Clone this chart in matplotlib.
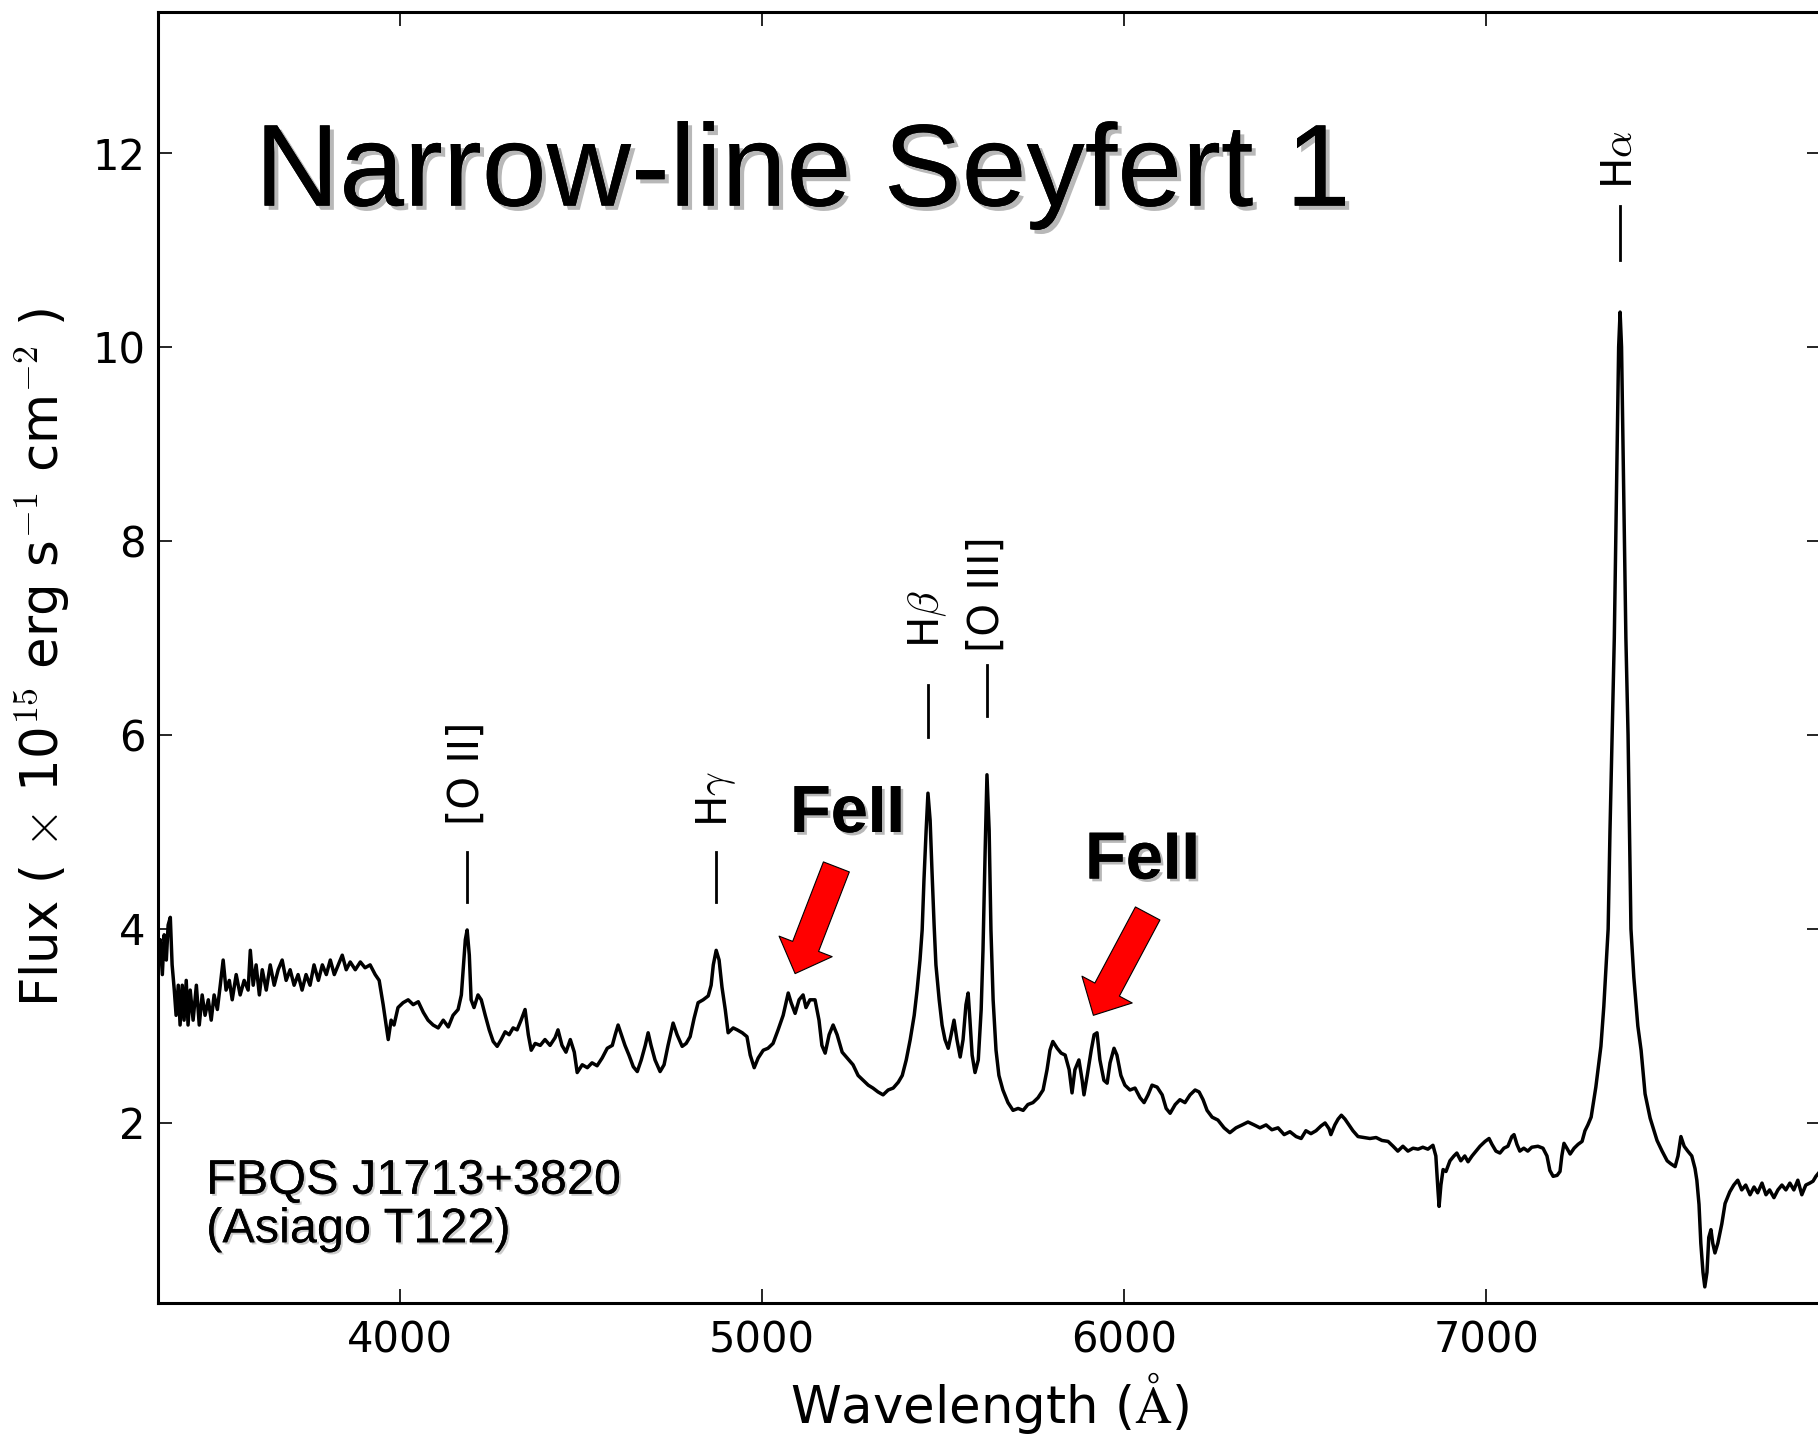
import matplotlib
matplotlib.use("Agg")
import matplotlib.pyplot as plt
import matplotlib.patheffects as pe
from matplotlib.patches import FancyArrowPatch, ArrowStyle

plt.rcParams["mathtext.fontset"] = "cm"

# Optical spectrum of FBQS J1713+3820, flux in 1e-15 erg s^-1 cm^-2
wavelength = [
    3332, 3337, 3343, 3348, 3354, 3359, 3365, 3370, 3376, 3381, 3387, 3392, 3398, 3403,
    3409, 3414, 3420, 3428, 3437, 3445, 3453, 3461, 3470, 3478, 3486, 3495, 3503, 3511,
    3519, 3528, 3536, 3547, 3558, 3569, 3580, 3586, 3594, 3602, 3611, 3619, 3630, 3641,
    3652, 3663, 3674, 3685, 3696, 3707, 3718, 3729, 3740, 3751, 3762, 3774, 3785, 3796,
    3807, 3818, 3829, 3840, 3851, 3862, 3876, 3890, 3903, 3917, 3931, 3942, 3953, 3961,
    3967, 3975, 3983, 3994, 4008, 4022, 4036, 4050, 4064, 4077, 4091, 4105, 4119, 4133,
    4146, 4160, 4169, 4174, 4180, 4185, 4191, 4196, 4204, 4215, 4224, 4235, 4246, 4257,
    4268, 4279, 4290, 4301, 4312, 4323, 4334, 4345, 4354, 4362, 4373, 4387, 4400, 4414,
    4428, 4436, 4447, 4458, 4470, 4481, 4489, 4503, 4517, 4530, 4544, 4558, 4572, 4586,
    4594, 4602, 4611, 4621, 4632, 4644, 4655, 4666, 4677, 4685, 4693, 4704, 4718, 4729,
    4740, 4754, 4765, 4779, 4790, 4801, 4812, 4823, 4837, 4851, 4859, 4865, 4873, 4881,
    4889, 4898, 4906, 4920, 4931, 4945, 4958, 4967, 4978, 4989, 5003, 5016, 5030, 5044,
    5058, 5072, 5080, 5091, 5102, 5113, 5121, 5132, 5146, 5157, 5165, 5174, 5185, 5196,
    5207, 5221, 5235, 5251, 5265, 5279, 5293, 5306, 5320, 5334, 5348, 5362, 5376, 5387,
    5398, 5409, 5420, 5428, 5436, 5442, 5447, 5453, 5458, 5464, 5469, 5475, 5480, 5489,
    5497, 5505, 5514, 5522, 5530, 5538, 5547, 5555, 5563, 5569, 5574, 5580, 5588, 5597,
    5605, 5610, 5616, 5621, 5627, 5632, 5638, 5646, 5654, 5665, 5679, 5693, 5707, 5721,
    5734, 5748, 5762, 5776, 5787, 5795, 5803, 5815, 5826, 5837, 5848, 5856, 5864, 5875,
    5884, 5889, 5898, 5909, 5917, 5925, 5933, 5944, 5953, 5961, 5972, 5980, 5991, 6002,
    6016, 6030, 6044, 6055, 6066, 6077, 6091, 6105, 6116, 6127, 6141, 6154, 6168, 6182,
    6196, 6207, 6218, 6229, 6243, 6259, 6276, 6292, 6309, 6326, 6342, 6359, 6375, 6392,
    6408, 6425, 6442, 6458, 6475, 6489, 6502, 6516, 6530, 6544, 6555, 6566, 6571, 6582,
    6591, 6600, 6610, 6621, 6632, 6646, 6663, 6679, 6696, 6712, 6729, 6743, 6756, 6770,
    6784, 6798, 6812, 6825, 6839, 6853, 6861, 6867, 6870, 6875, 6881, 6889, 6900, 6911,
    6919, 6930, 6941, 6950, 6961, 6972, 6983, 6997, 7008, 7016, 7027, 7038, 7049, 7060,
    7071, 7077, 7085, 7093, 7104, 7115, 7126, 7143, 7157, 7168, 7176, 7185, 7196, 7204,
    7209, 7215, 7223, 7232, 7243, 7254, 7265, 7273, 7281, 7290, 7303, 7317, 7325, 7331,
    7337, 7342, 7348, 7354, 7358, 7362, 7366, 7370, 7374, 7378, 7382, 7386, 7392, 7396,
    7400, 7408, 7419, 7428, 7439, 7453, 7472, 7486, 7500, 7510, 7522, 7530, 7538, 7547,
    7557, 7568, 7577, 7582, 7588, 7593, 7599, 7604, 7610, 7615, 7621, 7626, 7632, 7640,
    7651, 7660, 7673, 7684, 7695, 7706, 7717, 7729, 7740, 7750, 7762, 7773, 7783, 7795,
    7806, 7817, 7828, 7839, 7850, 7861, 7872, 7883, 7894, 7903, 7911, 7922,
]
flux = [
    3.68, 3.89, 3.53, 3.94, 3.68, 4.04, 4.12, 3.63, 3.37, 3.11, 3.42, 3.01, 3.42, 3.06,
    3.47, 3.01, 3.37, 3.06, 3.42, 3.01, 3.32, 3.11, 3.27, 3.06, 3.32, 3.17, 3.42, 3.68,
    3.37, 3.47, 3.27, 3.53, 3.32, 3.47, 3.37, 3.78, 3.42, 3.63, 3.32, 3.58, 3.37, 3.63,
    3.42, 3.58, 3.68, 3.47, 3.58, 3.42, 3.53, 3.37, 3.53, 3.42, 3.63, 3.47, 3.63, 3.53,
    3.68, 3.53, 3.63, 3.73, 3.58, 3.66, 3.58, 3.66, 3.60, 3.63, 3.53, 3.47, 3.22, 3.01,
    2.86, 3.06, 3.01, 3.19, 3.24, 3.27, 3.22, 3.25, 3.14, 3.06, 3.01, 2.98, 3.06, 2.99,
    3.11, 3.17, 3.32, 3.58, 3.89, 3.99, 3.73, 3.27, 3.19, 3.32, 3.27, 3.11, 2.96, 2.84,
    2.79, 2.86, 2.94, 2.91, 2.98, 2.96, 3.06, 3.17, 2.91, 2.75, 2.82, 2.80, 2.86, 2.80,
    2.88, 2.96, 2.80, 2.73, 2.86, 2.73, 2.52, 2.60, 2.57, 2.62, 2.59, 2.67, 2.77, 2.80,
    2.91, 3.01, 2.91, 2.80, 2.70, 2.58, 2.53, 2.65, 2.80, 2.93, 2.80, 2.65, 2.53, 2.60,
    2.80, 3.03, 2.91, 2.79, 2.82, 2.89, 3.08, 3.24, 3.27, 3.31, 3.42, 3.63, 3.78, 3.68,
    3.40, 3.17, 2.93, 2.98, 2.96, 2.93, 2.89, 2.70, 2.57, 2.67, 2.75, 2.77, 2.82, 2.96,
    3.11, 3.34, 3.24, 3.13, 3.27, 3.32, 3.19, 3.27, 3.27, 3.06, 2.80, 2.72, 2.91, 3.01,
    2.91, 2.73, 2.67, 2.60, 2.49, 2.44, 2.39, 2.36, 2.32, 2.29, 2.34, 2.36, 2.42, 2.49,
    2.65, 2.86, 3.11, 3.37, 3.68, 3.99, 4.51, 5.02, 5.40, 5.12, 4.61, 4.04, 3.63, 3.27,
    3.01, 2.86, 2.77, 2.91, 3.06, 2.86, 2.68, 2.86, 3.22, 3.34, 3.06, 2.70, 2.52, 2.65,
    3.17, 3.78, 4.81, 5.59, 5.02, 3.99, 3.27, 2.75, 2.49, 2.34, 2.21, 2.13, 2.15, 2.13,
    2.19, 2.21, 2.26, 2.34, 2.55, 2.75, 2.84, 2.77, 2.72, 2.70, 2.55, 2.31, 2.55, 2.65,
    2.44, 2.29, 2.49, 2.75, 2.91, 2.93, 2.65, 2.44, 2.41, 2.62, 2.77, 2.70, 2.49, 2.39,
    2.34, 2.36, 2.26, 2.21, 2.29, 2.39, 2.37, 2.29, 2.15, 2.10, 2.19, 2.24, 2.21, 2.29,
    2.34, 2.32, 2.24, 2.13, 2.06, 2.03, 1.95, 1.90, 1.95, 1.98, 2.01, 1.98, 1.95, 1.98,
    1.93, 1.95, 1.88, 1.91, 1.86, 1.84, 1.92, 1.89, 1.92, 1.97, 2.00, 1.94, 1.88, 1.98,
    2.04, 2.08, 2.04, 1.98, 1.92, 1.86, 1.85, 1.84, 1.85, 1.82, 1.81, 1.76, 1.71, 1.76,
    1.71, 1.74, 1.73, 1.75, 1.73, 1.77, 1.66, 1.30, 1.14, 1.36, 1.52, 1.50, 1.61, 1.66,
    1.69, 1.61, 1.66, 1.60, 1.66, 1.71, 1.76, 1.81, 1.84, 1.78, 1.71, 1.69, 1.74, 1.76,
    1.86, 1.88, 1.78, 1.71, 1.74, 1.71, 1.75, 1.76, 1.74, 1.66, 1.51, 1.45, 1.46, 1.50,
    1.66, 1.79, 1.74, 1.68, 1.74, 1.78, 1.81, 1.92, 1.98, 2.06, 2.37, 2.79, 3.20, 3.60,
    4.00, 5.00, 6.00, 7.00, 8.00, 9.00, 10.00, 10.36, 10.00, 9.00, 8.00, 7.00, 6.00, 5.00,
    4.00, 3.50, 3.00, 2.75, 2.30, 2.05, 1.82, 1.71, 1.61, 1.58, 1.55, 1.66, 1.86, 1.76,
    1.71, 1.66, 1.53, 1.41, 1.16, 0.76, 0.46, 0.31, 0.46, 0.82, 0.90, 0.76, 0.66, 0.76,
    0.96, 1.17, 1.29, 1.36, 1.41, 1.31, 1.36, 1.26, 1.34, 1.28, 1.38, 1.26, 1.31, 1.23,
    1.31, 1.36, 1.31, 1.38, 1.31, 1.41, 1.26, 1.36, 1.38, 1.40, 1.45, 1.50,
]

# emission line identifications
line_names = ["[O II]", r"H$\gamma$", r"H$\beta$", "[O III]", r"H$\alpha$"]
line_wl = [4185, 4873, 5458, 5621, 7370]
tick_lo = [4.28, 4.28, 5.98, 6.20, 10.90]
tick_hi = [4.79, 4.79, 6.52, 6.72, 11.45]
text_lo = [5.07, 5.05, 6.90, 6.86, 11.63]

# FeII blends: label anchor, arrow tail, arrow tip
feii_label = [(5077, 5.00), (5892, 4.52)]
feii_tail = [(5205, 4.64), (6065, 4.16)]
feii_tip = [(5091, 3.54), (5915, 3.11)]

fig = plt.figure(figsize=(18.18, 14.36), dpi=100)
ax = fig.add_axes([158 / 1818, 133 / 1436, 1663 / 1818, 1291 / 1436])

ax.plot(wavelength, flux, color="black", lw=2.5)

ax.set_xlim(3331, 7925)
ax.set_ylim(0.144, 13.454)
ax.set_xticks([4000, 5000, 6000, 7000])
ax.set_yticks([2, 4, 6, 8, 10, 12])
ax.tick_params(direction="in", length=10, width=1.2, labelsize=30,
               top=True, right=True)
ax.tick_params(axis="x", pad=12)
ax.tick_params(axis="y", pad=9)
for s in ax.spines.values():
    s.set_linewidth(2.2)

ax.set_xlabel(r"Wavelength ($\mathrm{\AA}$)", fontsize=37)
ax.set_ylabel(r"Flux ( $\times$ 10$^{15}$ erg s$^{-1}$ cm$^{-2}$ )", fontsize=37)
ax.xaxis.set_label_coords(0.5, -0.052)
ax.yaxis.set_label_coords(-0.052, 0.5)

for name, wl, y0, y1, yt in zip(line_names, line_wl, tick_lo, tick_hi, text_lo):
    ax.plot([wl, wl], [y0, y1], color="black", lw=2.0)
    ax.text(wl, yt, name, rotation=90, ha="center", va="bottom", fontsize=30)

shadow = [pe.withSimplePatchShadow(offset=(3, -3), shadow_rgbFace="0.72", alpha=1.0),
          pe.Normal()]
small_shadow = [pe.withSimplePatchShadow(offset=(1.5, -1.5), shadow_rgbFace="0.8", alpha=1.0),
                pe.Normal()]

ax.text(0.0583, 0.85, "Narrow-line Seyfert 1", transform=ax.transAxes,
        family="Liberation Sans", fontsize=84, va="baseline", ha="left",
        path_effects=shadow)

ax.text(3464, 0.77, "FBQS J1713+3820\n(Asiago T122)", family="Liberation Sans",
        fontsize=35, va="baseline", ha="left", linespacing=1.1,
        path_effects=small_shadow)

for (lx, ly), tail, tip in zip(feii_label, feii_tail, feii_tip):
    ax.text(lx, ly, "FeII", family="Liberation Sans", fontweight="bold",
            fontsize=48, va="baseline", ha="left",
            path_effects=[pe.withSimplePatchShadow(offset=(2, -2), shadow_rgbFace="0.72",
                                                   alpha=1.0), pe.Normal()])
    arrow = FancyArrowPatch(tail, tip, shrinkA=0, shrinkB=0, mutation_scale=1,
                            arrowstyle=ArrowStyle.Simple(head_length=21, head_width=41,
                                                         tail_width=20),
                            facecolor="#ff0000", edgecolor="black", lw=0.8)
    ax.add_patch(arrow)

fig.savefig("out.png", dpi=100)
